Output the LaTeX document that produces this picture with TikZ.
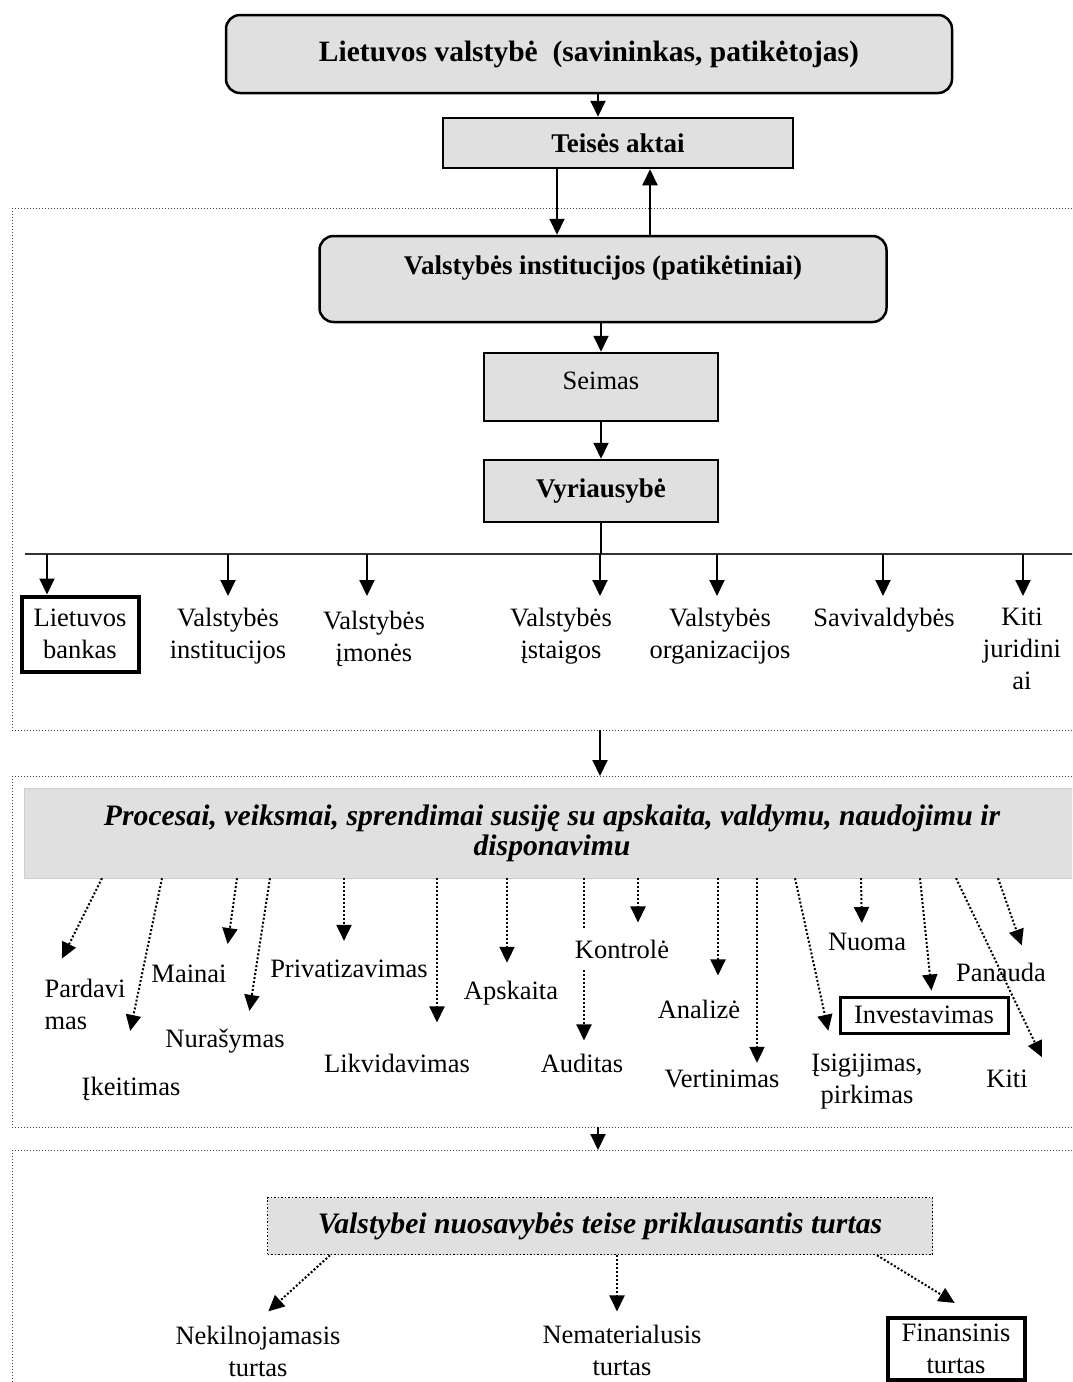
\documentclass[tikz,border=0pt]{standalone}
\usepackage{fontspec}
\setmainfont{Liberation Serif}
\usepackage{tikz}
\usetikzlibrary{arrows.meta}
\definecolor{boxgray}{RGB}{224,224,224}
\newcommand{\lblfont}{\fontsize{26.5}{32}\selectfont}
\newcommand{\headfont}{\fontsize{27}{32}\selectfont\bfseries}
\newcommand{\bigheadfont}{\fontsize{29.5}{34}\selectfont\bfseries}
\newcommand{\procfont}{\fontsize{29.7}{30}\selectfont\bfseries\itshape}

\begin{document}
\begin{tikzpicture}[x=1pt,y=-1pt]
\tikzstyle{rbox}=[draw,line width=2.5pt,fill=boxgray,rounded corners=14pt]
\tikzstyle{gbox}=[draw,line width=2.5pt,fill=boxgray]
\tikzstyle{lbl}=[font=\lblfont,align=center,inner sep=2pt]
\tikzstyle{unit}=[lbl,anchor=north,inner ysep=12pt]
\tikzstyle{kbox}=[draw,line width=3.5pt,font=\lblfont,align=center,inner sep=2pt]
\tikzstyle{sarr}=[line width=2pt,-{Triangle[length=16pt,width=15pt]}]
\tikzstyle{darr}=[line width=2pt,dotted,-{Triangle[length=16pt,width=15pt]}]
\tikzstyle{dotframe}=[line width=1pt,dotted,black!75]

\useasboundingbox (0,0) rectangle (1072,1382);
\clip (0,0) rectangle (1072,1382);

% frames
\draw[dotframe] (12,208) rectangle (1100,730);
\draw[dotframe] (12,776) rectangle (1100,1127);
\draw[dotframe] (12,1150) rectangle (1100,1420);
\coordinate (f1b) at (600,730);
\coordinate (f2t) at (600,776);
\coordinate (f2b) at (598,1127);
\coordinate (f3t) at (598,1150);
\draw[sarr] (f1b) -- (f2t);
\draw[sarr] (f2b) -- (f3t);

% top part
\node[rbox,minimum width=726,minimum height=78,font=\bigheadfont] (lv) at (589,54) {Lietuvos valstybė\ \ (savininkas, patikėtojas)};
\node[gbox,minimum width=350,minimum height=50,font=\headfont] (ta) at (618,143) {Teisės aktai};
\node[rbox,minimum width=567,minimum height=86,text depth=28pt,font=\headfont] (vi) at (603,279) {Valstybės institucijos (patikėtiniai)};
\node[gbox,minimum width=234,minimum height=68,text depth=12pt,font=\lblfont] (se) at (601,387) {Seimas};
\node[gbox,minimum width=234,minimum height=62,font=\headfont] (vy) at (601,491) {Vyriausybė};

\draw[sarr] (598,0 |- lv.south) -- (598,0 |- ta.north);
\draw[sarr] (557,0 |- ta.south) -- (557,0 |- vi.north);
\draw[sarr] (650,0 |- vi.north) -- (650,0 |- ta.south);
\draw[sarr] (601,0 |- vi.south) -- (se.north);
\draw[sarr] (se.south) -- (vy.north);

% bus
\coordinate (busL) at (25,554);
\coordinate (busR) at (1100,554);
\draw[line width=2.5pt,black!80] (busL) -- (busR);
\draw[line width=2pt] (vy.south) -- (vy.south |- busL);

\node[kbox,minimum width=117,minimum height=75,line width=4pt] (lb) at (80,634) {Lietuvos\\bankas};
\node[unit] (vinst) at (228,596) {Valstybės\\institucijos};
\node[unit] (vim) at (374,599) {Valstybės\\įmonės};
\node[unit] (vis) at (561,596) {Valstybės\\įstaigos};
\node[unit] (vorg) at (720,596) {Valstybės\\organizacijos};
\node[unit] (sav) at (884,596) {Savivaldybės};
\node[unit] (kj) at (1022,596) {Kiti\\juridini\\ai};

\draw[sarr] (47,0 |- busL) -- (47,0 |- lb.north);
\draw[sarr] (vinst.north |- busL) -- (vinst.north);
\draw[sarr] (367,0 |- busL) -- (367,0 |- vinst.north);
\draw[sarr] (600,0 |- busL) -- (600,0 |- vis.north);
\draw[sarr] (717,0 |- busL) -- (717,0 |- vorg.north);
\draw[sarr] (883,0 |- busL) -- (883,0 |- sav.north);
\draw[sarr] (1023,0 |- busL) -- (1023,0 |- kj.north);

% processes
\node[draw=black!20,fill=boxgray,minimum width=1056,minimum height=90,font=\procfont,align=center] (pr) at (552,833) {Procesai, veiksmai, sprendimai susiję su apskaita, valdymu, naudojimu ir\\disponavimu};

\node[lbl,align=left] (pard) at (85,1004) {Pardavi\\mas};
\node[lbl] (ikeit) at (131,1089) {Įkeitimas};
\node[lbl] (main) at (189,974) {Mainai};
\node[lbl] (nuras) at (225,1041) {Nurašymas};
\node[lbl] (priv) at (349,969) {Privatizavimas};
\node[lbl] (likv) at (397,1063) {Likvidavimas};
\node[lbl] (apsk) at (511,993) {Apskaita};
\node[lbl] (aud) at (582,1063) {Auditas};
\node[lbl] (anal) at (699,1009) {Analizė};
\node[lbl] (vert) at (722,1079) {Vertinimas};
\node[lbl] (isig) at (867,1082) {Įsigijimas,\\pirkimas};
\node[lbl] (nuoma) at (867,942) {Nuoma};
\node[kbox,minimum width=168,minimum height=36,line width=3pt] (inv) at (924,1015) {Investavimas};
\node[lbl] (kiti) at (1007,1079) {Kiti};
\node[lbl] (pan) at (1001,972) {Panauda};

\draw[darr,shorten >=20pt] (102,0 |- pr.south) -- (53,0 |- pard.north);
\draw[darr,shorten >=45pt] (162,0 |- pr.south) -- (121,0 |- ikeit.north);
\draw[darr,shorten >=19pt] (237,0 |- pr.south) -- (225,0 |- main.north);
\draw[darr,shorten >=16pt] (270,0 |- pr.south) -- (247,0 |- nuras.north);
\draw[darr,shorten >=17pt] (344,0 |- pr.south) -- (344,0 |- priv.north);
\draw[darr,shorten >=29pt] (437,0 |- pr.south) -- (437,0 |- likv.north);
\draw[darr,shorten >=16pt] (507,0 |- pr.south) -- (507,0 |- apsk.north);
\draw[darr,shorten >=11pt] (584,0 |- pr.south) -- (584,0 |- aud.north);
\draw[darr,shorten >=22pt] (718,0 |- pr.south) -- (718,0 |- anal.north);
\draw[darr,shorten >=5pt] (757,0 |- pr.south) -- (757,0 |- vert.north);
\draw[darr,shorten >=22pt] (795,0 |- pr.south) -- (833,0 |- isig.north);
\draw[darr,shorten >=8pt] (861,0 |- pr.south) -- (862,0 |- nuoma.north);
\draw[darr,shorten >=5pt] (920,0 |- pr.south) -- (932,0 |- inv.north);
\draw[darr,shorten >=12pt] (956,0 |- pr.south) -- (1047,0 |- kiti.north);
\draw[darr,shorten >=16pt] (998,0 |- pr.south) -- (1027,0 |- pan.north);

\node[lbl,fill=white,inner ysep=12pt] (kontr) at (622,949) {Kontrolė};
\draw[darr,shorten >=5pt] (638,0 |- pr.south) -- (638,0 |- kontr.north);

% property
\node[draw,dotted,line width=1.5pt,fill=boxgray,minimum width=665,minimum height=57,font=\procfont] (vt) at (600,1226) {Valstybei nuosavybės teise priklausantis turtas};
\node[lbl] (nek) at (258,1351) {Nekilnojamasis\\turtas};
\node[lbl] (nem) at (622,1350) {Nematerialusis\\turtas};
\node[kbox,minimum width=137,minimum height=62,line width=4pt] (fin) at (956,1349) {Finansinis\\turtas};

\draw[darr,shorten >=18pt] (330,0 |- vt.south) -- (255,0 |- nek.north);
\draw[darr,shorten >=11pt] (617,0 |- vt.south) -- (617,0 |- nem.north);
\draw[darr,shorten >=25pt] (877,0 |- vt.south) -- (976,0 |- fin.north);
\end{tikzpicture}
\end{document}
